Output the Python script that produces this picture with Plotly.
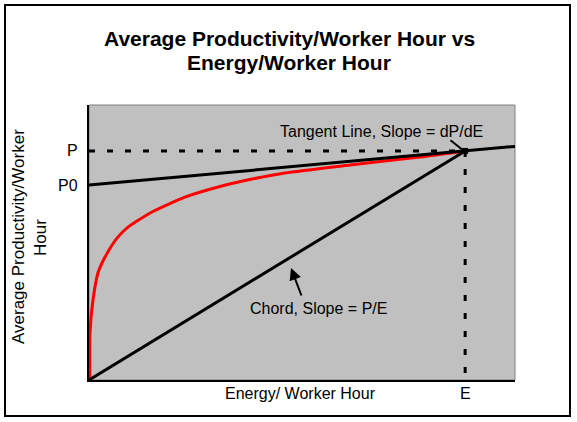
import plotly.graph_objects as go

# --- data (axes run 0..100 in both directions, no ticks) ---
energy = [0.2, 0.23, 0.94, 2.1, 3.76, 6.57, 9.15, 14.8, 22.5, 30.3, 38.3, 46.0, 61.3, 77.7, 88.3]
productivity = [0, 17.1, 29.1, 38.9, 44.7, 51.6, 55.6, 61.1, 66.5, 70.2, 73.1, 75.3, 78.2, 81.1, 83.3]

E_val = 88.3
P_val = 83.3
P0_val = 70.9
tangent_x = [0, 100]
tangent_y = [P0_val, P0_val + (P_val - P0_val) / E_val * 100]
chord_x = [0, E_val]
chord_y = [0, P_val]

W, H = 577, 422
L, R, T, B = 89, 62, 105, 42
font_face = "Liberation Sans, Arial, sans-serif"


def px_x(p):
    # pixel column -> paper x
    return (p - L) / (W - L - R)


def px_y(p):
    # pixel row -> paper y
    return (H - B - p) / (H - T - B)


fig = go.Figure()

fig.add_trace(go.Scatter(x=[0, E_val], y=[P_val, P_val], mode="lines",
                         line=dict(color="black", width=3, dash="6px,12px")))
fig.add_trace(go.Scatter(x=[E_val, E_val], y=[P_val, 0], mode="lines",
                         line=dict(color="black", width=3, dash="6px,12px")))
fig.add_trace(go.Scatter(x=energy, y=productivity, mode="lines",
                         line=dict(color="#ff0000", width=3, shape="spline", smoothing=0.6)))
fig.add_trace(go.Scatter(x=tangent_x, y=tangent_y, mode="lines",
                         line=dict(color="black", width=3)))
fig.add_trace(go.Scatter(x=chord_x, y=chord_y, mode="lines",
                         line=dict(color="black", width=3)))
fig.add_trace(go.Scatter(x=[E_val], y=[P_val], mode="markers",
                         marker=dict(color="black", size=6, symbol="square")))

txt = dict(family=font_face, size=16, color="black")
ylab = dict(family=font_face, size=17, color="black")
big = dict(family=font_face, size=21, color="black")


def label(x, y, text, font, xref="paper", yref="paper", **kw):
    d = dict(x=x, y=y, xref=xref, yref=yref, showarrow=False, text=text, font=font,
             xanchor="center", yanchor="middle")
    d.update(kw)
    return d


annotations = [
    # title
    label(px_x(289), px_y(38), "<b>Average Productivity/Worker Hour vs</b>", big),
    label(px_x(289), px_y(63), "<b>Energy/Worker Hour</b>", big),
    # axis titles
    label(px_x(18), px_y(237), "Average Productivity/Worker", ylab, textangle=-90),
    label(px_x(40), px_y(238), "Hour", ylab, textangle=-90),
    label(px_x(300), px_y(393), "Energy/ Worker Hour", txt),
    # point labels
    label(E_val, px_y(393), "E", txt, xref="x"),
    label(px_x(80), P_val, "P", txt, yref="y", xanchor="right"),
    label(px_x(80), P0_val, "P0", txt, yref="y", xanchor="right"),
    # line labels
    dict(x=px_x(464), y=px_y(151), ax=px_x(449), ay=px_y(139),
         xref="x domain", yref="y domain", axref="x domain", ayref="y domain",
         showarrow=True, arrowhead=0, arrowwidth=2, arrowcolor="black", text=""),
    label(px_x(381), px_y(131), "Tangent Line, Slope = dP/dE", txt),
    dict(x=px_x(291), y=px_y(268), ax=px_x(302), ay=px_y(297),
         xref="x domain", yref="y domain", axref="x domain", ayref="y domain",
         showarrow=True, arrowhead=2, arrowsize=1.2, arrowwidth=2,
         arrowcolor="black", text="", standoff=0),
    label(px_x(318), px_y(308), "Chord, Slope = P/E", txt),
]

shapes = [
    # outer frame
    dict(type="rect", xref="paper", yref="paper", x0=px_x(5), x1=px_x(570), y0=px_y(416), y1=px_y(5),
         line=dict(color="black", width=2), layer="below"),
    # top/right plot border
    dict(type="rect", xref="paper", yref="paper", x0=0, x1=1, y0=0, y1=1,
         line=dict(color="#808080", width=1), layer="below"),
]

fig.update_layout(
    width=W, height=H,
    margin=dict(l=L, r=R, t=T, b=B),
    paper_bgcolor="white",
    plot_bgcolor="#c0c0c0",
    showlegend=False,
    annotations=annotations,
    shapes=shapes,
    xaxis=dict(range=[0, 100], showgrid=False, zeroline=False, showticklabels=False, ticks="",
               showline=True, linecolor="black", linewidth=2),
    yaxis=dict(range=[0, 100], showgrid=False, zeroline=False, showticklabels=False, ticks="",
               showline=True, linecolor="black", linewidth=2),
)

fig.write_html("out.html", config={"displayModeBar": False},
               post_script="document.body.style.margin='0px';")
